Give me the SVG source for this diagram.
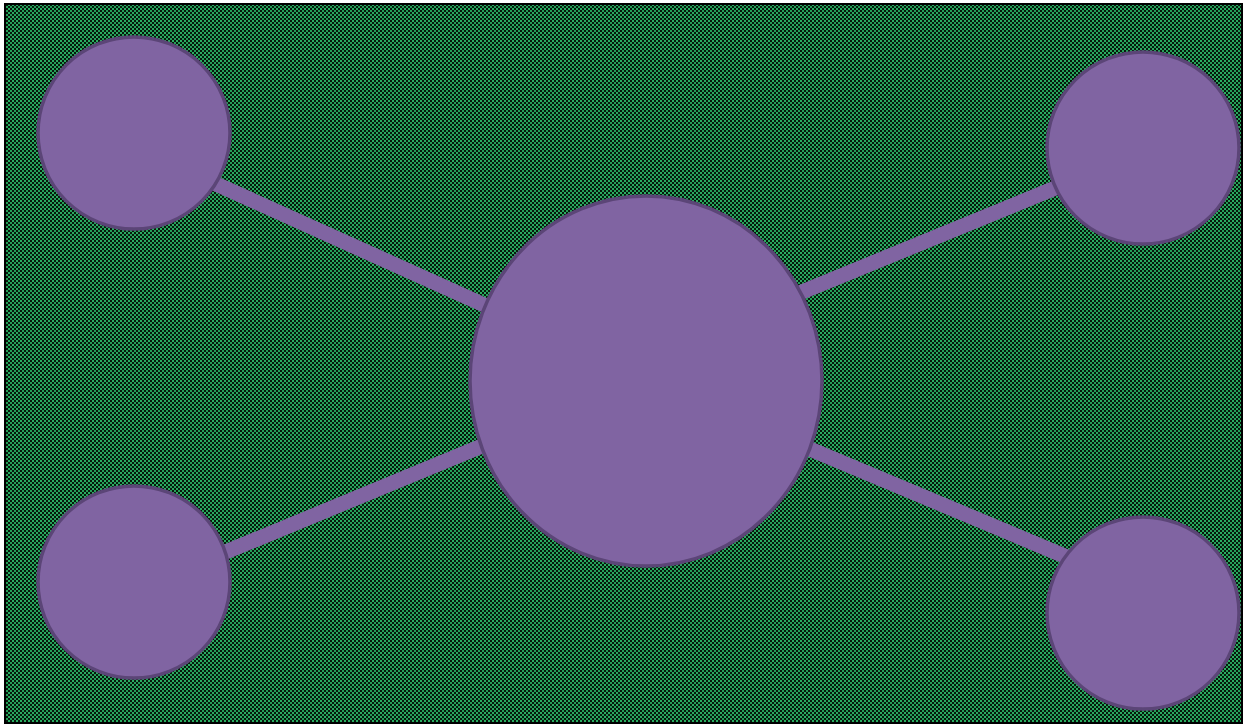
<svg xmlns="http://www.w3.org/2000/svg" width="1246" height="727" viewBox="0 0 1246 727">
  <defs>
    <pattern id="dots" patternUnits="userSpaceOnUse" width="4" height="4">
      <rect width="4" height="4" fill="#07190c"/>
      <rect x="0" y="0" width="2" height="2" fill="#2aae62"/>
      <rect x="2" y="2" width="2" height="2" fill="#24a058"/>
    </pattern>
  </defs>
  <style>
    .conn { stroke: #8064a2; stroke-width: 15; stroke-linecap: butt; fill: none; }
    .node { fill: #8064a2; stroke: #5b4577; stroke-width: 3.5; }
  </style>
  <rect x="0" y="0" width="1246" height="727" fill="#ffffff"/>
  <rect id="background" x="5" y="4" width="1237" height="719" fill="url(#dots)" stroke="#000000" stroke-width="2"/>
  <g id="connectors">
    <line class="conn" x1="134" y1="147" x2="646" y2="378"/>
    <line class="conn" x1="1143" y1="152" x2="646" y2="356"/>
    <line class="conn" x1="134" y1="590" x2="646" y2="378"/>
    <line class="conn" x1="1143" y1="589" x2="646" y2="380"/>
  </g>
  <g id="node-center"><ellipse class="node" cx="646" cy="381" rx="176" ry="185"/></g>
  <g id="node-top-left"><circle class="node" cx="134" cy="133" r="96"/></g>
  <g id="node-bottom-left"><circle class="node" cx="134" cy="582" r="96"/></g>
  <g id="node-top-right"><circle class="node" cx="1143" cy="148" r="96"/></g>
  <g id="node-bottom-right"><circle class="node" cx="1143" cy="613" r="96"/></g>
</svg>
